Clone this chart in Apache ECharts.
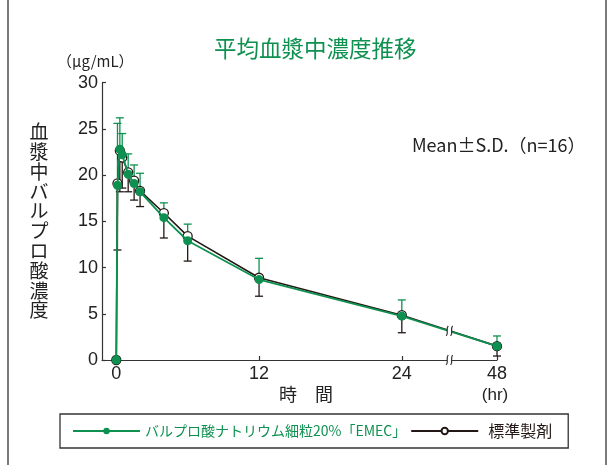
<!DOCTYPE html>
<html>
<head>
<meta charset="utf-8">
<script src="https://cdn.jsdelivr.net/npm/echarts@6/dist/echarts.min.js"></script>
<style>
html,body{margin:0;padding:0;background:#fff;}
#chart{width:614px;height:465px;}
</style>
</head>
<body>
<div id="chart"></div>
<script>
// Sampling times (hr)
const hours = [0, 0.1, 0.3, 0.5, 1, 1.5, 2, 4, 6, 12, 24, 48];
// Test formulation: mean and SD (µg/mL)
const emecMean = [0, 18.9, 22.8, 22.2, 20.1, 19.1, 18.2, 15.4, 12.9, 8.7, 4.75, 1.5];
const emecSD   = [0, 6.7, 3.4, 2.3, 2.2, 2.0, 2.0, 1.6, 1.8, 2.3, 1.75, 1.1];
// Reference formulation: mean and SD (µg/mL)
const refMean  = [0, 19.1, 22.65, 21.9, 20.3, 19.4, 18.3, 15.9, 13.4, 8.9, 4.85, 1.5];
const refSD    = [0, 7.2, 4.45, 3.3, 2.1, 2.1, 1.7, 2.7, 2.7, 2.0, 1.9, 1.07];
// Axis ticks
const xTicks = [0, 12, 24, 48];
const yTicks = [0, 5, 10, 15, 20, 25, 30];
// Time where the axis is broken
const breakHour = 36;

const seriesNames = ['バルプロ酸ナトリウム細粒20%「EMEC」', '標準製剤'];
const GREEN = '#0e9150';
const DARK = '#231815';
const NUM_FONT = '"Liberation Sans Narrow", "Liberation Sans", Arial, sans-serif';
const JP_FONT = '"Noto Sans CJK JP", "Noto Sans", sans-serif';

// Beyond 24 hr the time axis is compressed 3:1
const COMPRESS_FROM = 24, COMPRESS = 3;
const toAxis = t => t <= COMPRESS_FROM ? t : COMPRESS_FROM + (t - COMPRESS_FROM) / COMPRESS;
const fromAxis = v => v <= COMPRESS_FROM ? v : COMPRESS_FROM + (v - COMPRESS_FROM) * COMPRESS;

const pts = means => hours.map((h, i) => [toAxis(h), means[i]]);
const bars = (means, sds, dir) => hours
  .map((h, i) => [toAxis(h), means[i], means[i] + dir * sds[i]])
  .filter(d => d[1] !== d[2]);

function errorBar(color) {
  return function (params, api) {
    const p1 = api.coord([api.value(0), api.value(1)]);
    const p2 = api.coord([api.value(0), api.value(2)]);
    const hw = 4;
    const st = { stroke: color, lineWidth: 1.3 };
    return {
      type: 'group',
      children: [
        { type: 'line', shape: { x1: p1[0], y1: p1[1], x2: p2[0], y2: p2[1] }, style: st },
        { type: 'line', shape: { x1: p2[0] - hw, y1: p2[1], x2: p2[0] + hw, y2: p2[1] }, style: st }
      ]
    };
  };
}

// Break marks on the axis and on the curve between 24 and 48 hr
function lerp(a, b, f) { return a + (b - a) * f; }
const n = hours.length;
const fBreak = (toAxis(breakHour) - toAxis(hours[n - 2])) / (toAxis(hours[n - 1]) - toAxis(hours[n - 2]));
const breakPoints = [
  [toAxis(breakHour), 0],
  [toAxis(breakHour), lerp((emecMean[n - 2] + refMean[n - 2]) / 2, (emecMean[n - 1] + refMean[n - 1]) / 2, fBreak)]
];
function breakMark(params, api) {
  const p = api.coord([api.value(0), api.value(1)]);
  const h = 5, g = 2.2;
  const st = { stroke: '#333', lineWidth: 1.2, fill: null };
  return {
    type: 'group',
    children: [
      { type: 'rect', shape: { x: p[0] - g, y: p[1] - h - 1, width: 2 * g, height: 2 * h + 2 }, style: { fill: '#fff' } },
      { type: 'bezierCurve', shape: { x1: p[0] - g - 1, y1: p[1] + h, x2: p[0] - g + 1, y2: p[1] - h, cpx1: p[0] - g + 2, cpy1: p[1] + 1, cpx2: p[0] - g - 2, cpy2: p[1] - 1 }, style: st },
      { type: 'bezierCurve', shape: { x1: p[0] + g - 1, y1: p[1] + h, x2: p[0] + g + 1, y2: p[1] - h, cpx1: p[0] + g + 2, cpy1: p[1] + 1, cpx2: p[0] + g - 2, cpy2: p[1] - 1 }, style: st }
    ]
  };
}

const chart = echarts.init(document.getElementById('chart'), null, { renderer: 'canvas' });

chart.setOption({
  animation: false,
  backgroundColor: '#fff',
  title: {
    text: '平均血漿中濃度推移',
    left: 209, top: 32,
    textStyle: { color: GREEN, fontSize: 22.5, fontWeight: 'normal', fontFamily: JP_FONT }
  },
  legend: {
    left: 60, top: 414,
    padding: [9, 16, 9, 12],
    borderColor: '#333', borderWidth: 1.3, borderRadius: 0,
    itemWidth: 67, itemHeight: 8, itemGap: 4,
    textStyle: { fontFamily: JP_FONT, fontSize: 14 },
    data: [
      { name: seriesNames[0], textStyle: { color: GREEN, fontSize: 14 } },
      { name: seriesNames[1], textStyle: { color: DARK, fontSize: 16, padding: [0, 0, 0, 5] } }
    ]
  },
  grid: { left: 102, right: 117, top: 82.7, bottom: 105 },
  xAxis: {
    type: 'value', min: -1.2, max: toAxis(xTicks[xTicks.length - 1]),
    splitLine: { show: false },
    axisLine: { onZero: false, lineStyle: { color: '#333', width: 1.2 } },
    axisTick: { inside: true, length: 4, lineStyle: { color: '#333', width: 1.2 }, customValues: xTicks.map(toAxis) },
    axisLabel: {
      customValues: xTicks.map(toAxis), margin: 5,
      formatter: v => String(Math.round(fromAxis(v))),
      color: '#222', fontSize: 18, fontFamily: NUM_FONT
    }
  },
  yAxis: {
    type: 'value', min: yTicks[0], max: yTicks[yTicks.length - 1], interval: 5,
    splitLine: { show: false },
    axisLine: { show: true, onZero: false, lineStyle: { color: '#333', width: 1.2 } },
    axisTick: { show: true, inside: true, length: 4, lineStyle: { color: '#333', width: 1.2 } },
    axisLabel: { margin: 4, color: '#222', fontSize: 18, fontFamily: NUM_FONT }
  },
  graphic: [
    { type: 'line', shape: { x1: 8, y1: 0, x2: 8, y2: 465 }, style: { stroke: '#333', lineWidth: 1.3 } },
    { type: 'line', shape: { x1: 606, y1: 0, x2: 606, y2: 465 }, style: { stroke: '#333', lineWidth: 1.3 } },
    { type: 'text', left: 57, top: 54, style: { text: '（μg/mL）', fontSize: 15, fontFamily: JP_FONT, fill: '#222' } },
    { type: 'text', x: 39, y: 122, style: { text: '血\n漿\n中\nバ\nル\nプ\nロ\n酸\n濃\n度', fontSize: 19, lineHeight: 19.8, align: 'center', fontFamily: JP_FONT, fill: '#222' } },
    { type: 'text', x: 306, y: 385, style: { text: '時　間', fontSize: 18, align: 'center', fontFamily: JP_FONT, fill: '#222' } },
    { type: 'text', x: 495, y: 387, style: { text: '(hr)', fontSize: 17, align: 'center', fontFamily: NUM_FONT, fill: '#222' } },
    { type: 'text', x: 412, y: 136, style: { text: 'Mean±S.D.（n=16）', fontSize: 18, fontFamily: JP_FONT, fill: '#222' } }
  ],
  series: [
    {
      type: 'custom', renderItem: errorBar(DARK), z: 2,
      data: bars(refMean, refSD, -1), silent: true
    },
    {
      type: 'custom', renderItem: errorBar(GREEN), z: 2,
      data: bars(emecMean, emecSD, 1), silent: true
    },
    {
      name: seriesNames[1], type: 'line', data: pts(refMean), z: 3,
      symbol: 'circle', symbolSize: 9,
      lineStyle: { color: DARK, width: 1.6 },
      itemStyle: { color: '#fff', borderColor: DARK, borderWidth: 1.3 }
    },
    {
      name: seriesNames[0], type: 'line', data: pts(emecMean), z: 4,
      symbol: 'circle', symbolSize: 9,
      lineStyle: { color: GREEN, width: 1.8 },
      itemStyle: { color: GREEN, borderColor: GREEN, borderWidth: 0 }
    },
    {
      type: 'custom', renderItem: breakMark, data: breakPoints, z: 10, silent: true
    }
  ]
});
</script>
</body>
</html>
